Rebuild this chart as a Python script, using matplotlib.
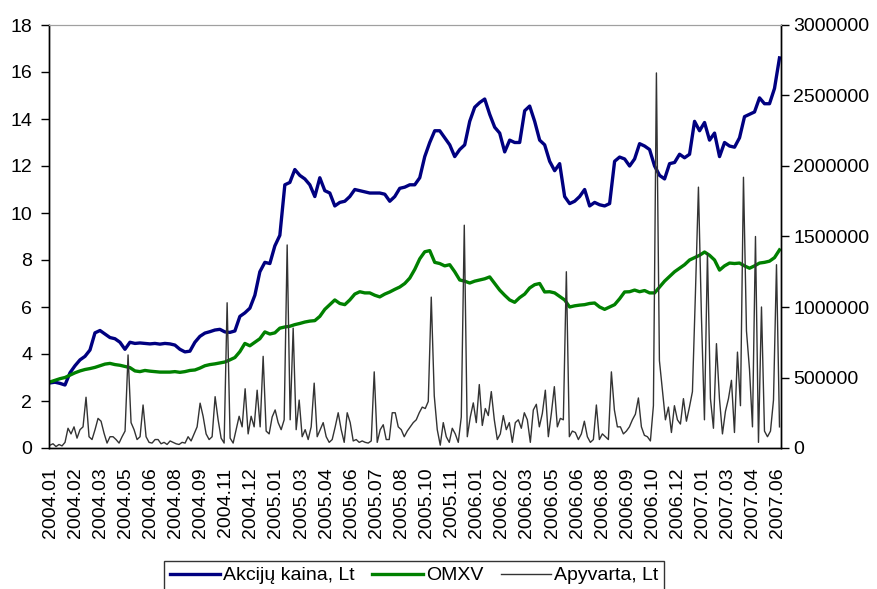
import numpy as np
import matplotlib
matplotlib.use("Agg")
from matplotlib import pyplot as plt
import matplotlib.ticker as mticker

plt.rcParams["font.family"] = ["Liberation Sans", "DejaVu Sans"]

# x-axis category labels (evenly spaced, Excel style)
tick_labels = [
    "2004.01", "2004.02", "2004.03", "2004.05", "2004.06", "2004.08", "2004.09",
    "2004.11", "2004.12", "2005.01", "2005.03", "2005.04", "2005.06", "2005.07",
    "2005.08", "2005.10", "2005.11", "2006.01", "2006.02", "2006.03", "2006.05",
    "2006.06", "2006.08", "2006.09", "2006.10", "2006.12", "2007.01", "2007.03",
    "2007.04", "2007.06",
]

# share price, Lt (left axis)
akciju_kaina = [
    2.77, 2.8, 2.75, 2.68, 3.2, 3.5, 3.75, 3.9, 4.17, 4.9,
    5.0, 4.85, 4.7, 4.65, 4.5, 4.2, 4.5, 4.45, 4.47, 4.45,
    4.43, 4.45, 4.42, 4.45, 4.43, 4.38, 4.2, 4.09, 4.12, 4.5,
    4.75, 4.89, 4.95, 5.02, 5.05, 4.94, 4.92, 4.98, 5.6, 5.75,
    5.95, 6.5, 7.5, 7.9, 7.85, 8.6, 9.05, 11.2, 11.3, 11.85,
    11.6, 11.45, 11.2, 10.7, 11.5, 10.95, 10.85, 10.3, 10.45, 10.5,
    10.7, 11.0, 10.95, 10.9, 10.85, 10.85, 10.85, 10.8, 10.5, 10.7,
    11.05, 11.1, 11.2, 11.2, 11.5, 12.4, 13.0, 13.5, 13.5, 13.2,
    12.9, 12.4, 12.7, 12.9, 13.9, 14.5, 14.7, 14.85, 14.2, 13.65,
    13.4, 12.6, 13.1, 13.0, 13.0, 14.35, 14.55, 13.9, 13.1, 12.9,
    12.2, 11.8, 12.1, 10.7, 10.4, 10.5, 10.7, 11.0, 10.3, 10.45,
    10.35, 10.3, 10.4, 12.2, 12.38, 12.3, 12.0, 12.3, 12.95, 12.85,
    12.7, 12.0, 11.6, 11.45, 12.1, 12.15, 12.5, 12.35, 12.5, 13.9,
    13.5, 13.85, 13.1, 13.4, 12.4, 13.0, 12.85, 12.8, 13.2, 14.1,
    14.2, 14.3, 14.9, 14.65, 14.65, 15.3, 16.6,
]

# OMXV index (left axis scale)
omxv = [
    2.81, 2.88, 2.95, 3.0, 3.1, 3.2, 3.28, 3.34, 3.38, 3.43,
    3.5, 3.57, 3.6, 3.55, 3.52, 3.47, 3.42, 3.28, 3.25, 3.3,
    3.27, 3.25, 3.23, 3.23, 3.23, 3.25, 3.22, 3.25, 3.3, 3.32,
    3.4, 3.5, 3.55, 3.58, 3.62, 3.66, 3.75, 3.85, 4.1, 4.45,
    4.35, 4.5, 4.65, 4.94, 4.85, 4.9, 5.1, 5.15, 5.18, 5.25,
    5.3, 5.36, 5.4, 5.42, 5.6, 5.9, 6.1, 6.3, 6.15, 6.1,
    6.3, 6.55, 6.65, 6.6, 6.6, 6.5, 6.43, 6.55, 6.64, 6.75,
    6.85, 7.0, 7.23, 7.6, 8.05, 8.35, 8.4, 7.9, 7.85, 7.75,
    7.8, 7.5, 7.15, 7.1, 7.02, 7.1, 7.15, 7.2, 7.28, 7.0,
    6.72, 6.5, 6.3, 6.2, 6.4, 6.55, 6.81, 6.95, 7.0, 6.64,
    6.65, 6.6, 6.45, 6.3, 6.0, 6.05, 6.08, 6.1, 6.15, 6.17,
    6.0, 5.9, 6.0, 6.1, 6.35, 6.64, 6.65, 6.72, 6.65, 6.7,
    6.6, 6.6, 6.85, 7.1, 7.3, 7.5, 7.65, 7.8, 8.0, 8.1,
    8.2, 8.34, 8.2, 8.0, 7.57, 7.75, 7.87, 7.85, 7.87, 7.75,
    7.65, 7.75, 7.87, 7.9, 7.95, 8.1, 8.43,
]

# turnover, thousands Lt (right axis)
apyvarta_k = [
    20, 30, 10, 25, 15, 40, 140, 100, 150, 70,
    130, 150, 360, 80, 60, 130, 210, 190, 105, 35,
    80, 80, 60, 35, 80, 120, 660, 180, 130, 60,
    80, 305, 80, 40, 35, 60, 60, 30, 40, 25,
    50, 40, 30, 25, 40, 35, 80, 50, 100, 150,
    318, 225, 100, 60, 80, 364, 200, 70, 35, 1030,
    70, 35, 130, 225, 150, 420, 100, 225, 150, 410,
    150, 650, 120, 100, 220, 270, 180, 130, 200, 1440,
    200, 850, 130, 340, 80, 130, 60, 150, 460, 80,
    130, 180, 80, 40, 60, 150, 250, 130, 40, 250,
    180, 50, 60, 40, 50, 40, 35, 50, 540, 40,
    130, 165, 60, 60, 250, 250, 150, 130, 80, 120,
    150, 180, 200, 250, 290, 280, 330, 1070, 370, 130,
    20, 180, 80, 40, 140, 100, 40, 220, 1580, 80,
    220, 320, 180, 450, 160, 280, 230, 400, 200, 60,
    100, 230, 130, 180, 40, 180, 200, 140, 250, 200,
    40, 270, 310, 150, 245, 410, 80, 245, 435, 150,
    210, 200, 1250, 80, 120, 110, 60, 100, 190, 80,
    40, 60, 305, 60, 100, 80, 60, 540, 270, 150,
    150, 100, 120, 150, 200, 240, 355, 150, 90, 80,
    50, 300, 2660, 620, 410, 200, 290, 110, 300, 200,
    170, 350, 190, 290, 400, 1100, 1850, 930, 200, 1380,
    350, 140, 740, 350, 100, 260, 350, 480, 110, 680,
    300, 1920, 830, 560, 150, 1500, 40, 1000, 120, 80,
    120, 340, 1300, 150,
]

span = 29.06
x_price = np.linspace(0, span, len(akciju_kaina))
x_vol = np.linspace(0, span, len(apyvarta_k))
apyvarta = np.array(apyvarta_k) * 1000

fig = plt.figure(figsize=(8.77, 5.89), dpi=100)
ax = fig.add_axes([49 / 877, 1 - 448 / 589, 732 / 877, 423 / 589])
ax2 = ax.twinx()

l1, = ax.plot(x_price, akciju_kaina, color="#000080", lw=2.4, label="Akcijų kaina, Lt")
l2, = ax.plot(x_price, omxv, color="#008000", lw=2.4, label="OMXV")
l3, = ax2.plot(x_vol, apyvarta, color="#333333", lw=1.0, label="Apyvarta, Lt")

ax.set_xlim(-0.04, 29.12)
ax.set_ylim(0, 18)
ax.set_yticks(range(0, 19, 2))
ax2.set_ylim(0, 3000000)
ax2.set_yticks(range(0, 3000001, 500000))
ax2.yaxis.set_major_formatter(mticker.StrMethodFormatter("{x:.0f}"))

ax.set_xticks(range(len(tick_labels)))
ax.set_xticklabels(tick_labels, rotation=90)
ax.tick_params(axis="x", length=0, pad=14, labelsize=14)
ax.tick_params(axis="y", direction="out", length=6, width=1, pad=6, labelsize=14)
ax2.tick_params(axis="y", direction="out", length=6, width=1, pad=3, labelsize=14)

for a in (ax, ax2):
    a.spines["top"].set_color("#a0a0a0")
    for s in ("left", "right", "bottom"):
        a.spines[s].set_color("black")
        a.spines[s].set_linewidth(1)

leg = fig.legend(
    handles=[l1, l2, l3],
    loc="upper center",
    bbox_to_anchor=(414 / 877, 1 - 561 / 589),
    ncol=3,
    fontsize=14,
    frameon=True,
    fancybox=False,
    edgecolor="black",
    handlelength=2.6,
    handletextpad=0.15,
    columnspacing=0.9,
    borderpad=0.3,
    borderaxespad=0,
)
leg.get_frame().set_linewidth(1)

fig.savefig("out.png", dpi=100)
